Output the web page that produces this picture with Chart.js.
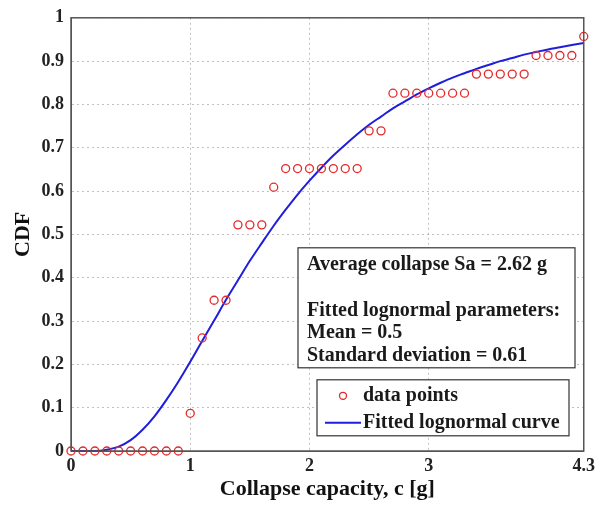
<!DOCTYPE html>
<html>
<head>
<meta charset="utf-8">
<script src="https://cdn.jsdelivr.net/npm/chart.js@4"></script>
<style>
  html, body { margin: 0; padding: 0; background: #fff; }
  #wrap { width: 600px; height: 506px; }
</style>
</head>
<body>
<div id="wrap"><canvas id="myChart" width="600" height="506"></canvas></div>
<script>
// data
const pointX = [0, 0.1, 0.2, 0.3, 0.4, 0.5, 0.6, 0.7, 0.8, 0.9,
    1.0, 1.1, 1.2, 1.3, 1.4, 1.5, 1.6, 1.7, 1.8, 1.9,
    2.0, 2.1, 2.2, 2.3, 2.4, 2.5, 2.6, 2.7, 2.8, 2.9,
    3.0, 3.1, 3.2, 3.3, 3.4, 3.5, 3.6, 3.7, 3.8, 3.9,
    4.0, 4.1, 4.2, 4.3];
const pointY = [0, 0, 0, 0, 0, 0, 0, 0, 0, 0,
    0.087, 0.261, 0.348, 0.348, 0.522, 0.522, 0.522, 0.609, 0.652, 0.652,
    0.652, 0.652, 0.652, 0.652, 0.652, 0.739, 0.739, 0.826, 0.826, 0.826,
    0.826, 0.826, 0.826, 0.826, 0.870, 0.870, 0.870, 0.870, 0.870, 0.913,
    0.913, 0.913, 0.913, 0.957];

const curveX = [0, 0.1, 0.2, 0.3, 0.4, 0.5, 0.6, 0.7, 0.8, 0.9,
    1.0, 1.1, 1.2, 1.3, 1.4, 1.5, 1.6, 1.7, 1.8, 1.9,
    2.0, 2.1, 2.2, 2.3, 2.4, 2.5, 2.6, 2.7, 2.8, 2.9,
    3.0, 3.1, 3.2, 3.3, 3.4, 3.5, 3.6, 3.7, 3.8, 3.9,
    4.0, 4.1, 4.2, 4.3];
const curveY = [0, 0, 0, 0.003, 0.010, 0.025, 0.049, 0.080, 0.118, 0.160,
    0.206, 0.254, 0.301, 0.349, 0.394, 0.439, 0.480, 0.520, 0.557, 0.592,
    0.624, 0.654, 0.682, 0.707, 0.731, 0.753, 0.772, 0.791, 0.807, 0.823,
    0.837, 0.850, 0.862, 0.872, 0.882, 0.891, 0.900, 0.907, 0.915, 0.921,
    0.927, 0.932, 0.937, 0.942];

const xTicks = [0, 1, 2, 3, 4.3];
const yTicks = [0, 0.1, 0.2, 0.3, 0.4, 0.5, 0.6, 0.7, 0.8, 0.9, 1];

const seriesNames = ["data points", "Fitted lognormal curve"];
const infoLines = [
    "Average collapse Sa = 2.62 g",
    "",
    "Fitted lognormal parameters:",
    "Mean = 0.5",
    "Standard deviation = 0.61",
];

const serif = "'Liberation Serif', 'DejaVu Serif', serif";
const red = "rgb(230, 40, 40)";
const blue = "rgb(30, 30, 220)";

// box around the plot, the info box and the legend
const boxes = {
    id: "boxes",
    afterDatasetsDraw(chart) {
        const { ctx, chartArea: a } = chart;
        ctx.save();
        ctx.strokeStyle = "#555";
        ctx.lineWidth = 1.5;
        ctx.strokeRect(a.left, a.top, a.right - a.left, a.bottom - a.top);

        // info box
        const bx = a.left + 227, by = a.top + 230, bw = 277, bh = 120;
        ctx.fillStyle = "#fff";
        ctx.fillRect(bx, by, bw, bh);
        ctx.strokeStyle = "#333";
        ctx.lineWidth = 1.2;
        ctx.strokeRect(bx, by, bw, bh);
        ctx.fillStyle = "#1a1a1a";
        ctx.font = "bold 20px " + serif;
        ctx.textBaseline = "middle";
        ctx.textAlign = "left";
        const lineY = [17, 40, 63, 85, 108];
        infoLines.forEach((t, i) => {
            if (t) ctx.fillText(t, bx + 9, by + lineY[i]);
        });

        // legend
        const lx = a.left + 246, ly = a.top + 362, lw = 252, lh = 56;
        ctx.fillStyle = "#fff";
        ctx.fillRect(lx, ly, lw, lh);
        ctx.strokeStyle = "#333";
        ctx.strokeRect(lx, ly, lw, lh);
        ctx.beginPath();
        ctx.strokeStyle = red;
        ctx.lineWidth = 1.3;
        ctx.arc(lx + 26, ly + 16, 3.5, 0, Math.PI * 2);
        ctx.stroke();
        ctx.beginPath();
        ctx.strokeStyle = blue;
        ctx.lineWidth = 2;
        ctx.moveTo(lx + 8, ly + 43);
        ctx.lineTo(lx + 44, ly + 43);
        ctx.stroke();
        ctx.fillStyle = "#1a1a1a";
        ctx.fillText(chart.data.datasets[0].label, lx + 46, ly + 16);
        ctx.fillText(chart.data.datasets[1].label, lx + 46, ly + 43);
        ctx.restore();
    },
};

const ctx = document.getElementById("myChart");

new Chart(ctx, {
    type: "scatter",
    data: {
        datasets: [
            {
                label: seriesNames[0],
                data: pointX.map((x, i) => ({ x: x, y: pointY[i] })),
                borderColor: red,
                backgroundColor: "rgba(0,0,0,0)",
                borderWidth: 1.3,
                pointRadius: 4,
                clip: false,
            },
            {
                label: seriesNames[1],
                data: curveX.map((x, i) => ({ x: x, y: curveY[i] })),
                showLine: true,
                borderColor: blue,
                borderWidth: 2,
                pointRadius: 0,
                cubicInterpolationMode: "monotone",
                clip: false,
            },
        ],
    },
    options: {
        responsive: false,
        animation: false,
        layout: { padding: { top: 15, right: 15, left: 0, bottom: 0 } },
        plugins: {
            legend: { display: false },
            tooltip: { enabled: false },
        },
        scales: {
            x: {
                type: "linear",
                min: 0,
                max: 4.3,
                afterBuildTicks: (s) => { s.ticks = xTicks.map((v) => ({ value: v })); },
                afterFit: (s) => { s.height = 55; },
                ticks: {
                    color: "#222",
                    padding: 5,
                    font: { family: serif, size: 18, weight: "bold" },
                    callback: (v) => String(v),
                },
                grid: { color: "rgba(150,150,150,0.6)", drawTicks: false },
                border: { color: "#555", dash: [2, 3] },
                title: {
                    display: true,
                    text: "Collapse capacity, c [g]",
                    color: "#111",
                    font: { family: serif, size: 22, weight: "bold" },
                    padding: { top: 0, bottom: 3 },
                },
            },
            y: {
                min: 0,
                max: 1,
                afterBuildTicks: (s) => { s.ticks = yTicks.map((v) => ({ value: v })); },
                afterFit: (s) => { s.width = 71; },
                ticks: {
                    color: "#222",
                    padding: 7,
                    font: { family: serif, size: 18, weight: "bold" },
                    callback: (v) => String(v),
                },
                grid: { color: "rgba(150,150,150,0.6)", drawTicks: false },
                border: { color: "#555", dash: [2, 3] },
                title: {
                    display: true,
                    text: "CDF",
                    color: "#111",
                    font: { family: serif, size: 22, weight: "bold" },
                    padding: { top: 10, bottom: 0 },
                },
            },
        },
    },
    plugins: [boxes],
});
</script>
</body>
</html>
